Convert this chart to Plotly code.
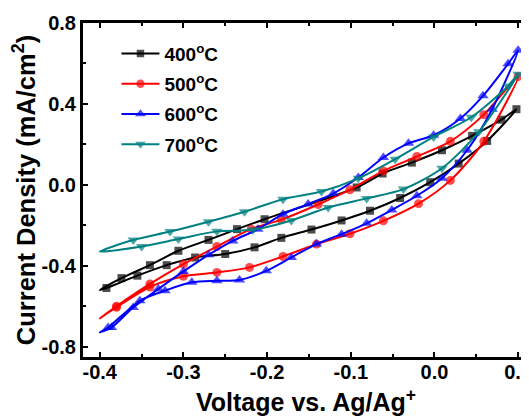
import plotly.graph_objects as go

# ---- data ----
series_names = ["400<sup>o</sup>C", "500<sup>o</sup>C", "600<sup>o</sup>C", "700<sup>o</sup>C"]

# 400 C (black)
v400_fwd = [-0.4, -0.392, -0.355, -0.320, -0.286, -0.250, -0.215, -0.183, -0.147, -0.111, -0.077, -0.041, -0.005, 0.029, 0.063, 0.098]
j400_fwd = [-0.52, -0.51, -0.449, -0.397, -0.359, -0.342, -0.309, -0.262, -0.221, -0.176, -0.128, -0.065, 0.013, 0.105, 0.217, 0.374]
v400_rev = [0.080, 0.045, 0.009, -0.027, -0.062, -0.093, -0.203, -0.236, -0.270, -0.306, -0.340, -0.374, -0.4]
j400_rev = [0.322, 0.242, 0.171, 0.110, 0.056, -0.013, -0.170, -0.219, -0.272, -0.326, -0.397, -0.461, -0.52]

# 500 C (red)
v500_fwd = [-0.4, -0.38, -0.34, -0.30, -0.26, -0.221, -0.181, -0.141, -0.101, -0.061, -0.019, 0.019, 0.059, 0.1]
j500_fwd = [-0.66, -0.605, -0.505, -0.452, -0.433, -0.408, -0.354, -0.293, -0.242, -0.178, -0.093, 0.022, 0.215, 0.535]
v500_rev = [0.059, 0.019, -0.021, -0.061, -0.101, -0.139, -0.183, -0.219, -0.26, -0.30, -0.34, -0.38, -0.4]
j500_rev = [0.347, 0.215, 0.140, 0.069, -0.024, -0.097, -0.172, -0.219, -0.305, -0.392, -0.49, -0.60, -0.66]

# 600 C (blue)
v600_fwd = [-0.4, -0.39, -0.352, -0.322, -0.29, -0.26, -0.233, -0.201, -0.171, -0.141, -0.111, -0.081, -0.051, -0.021, 0.009, 0.039, 0.069, 0.1]
j600_fwd = [-0.73, -0.705, -0.573, -0.523, -0.482, -0.474, -0.470, -0.425, -0.359, -0.293, -0.244, -0.190, -0.124, -0.054, 0.033, 0.171, 0.374, 0.665]
v600_rev = [0.088, 0.058, 0.031, -0.001, -0.031, -0.061, -0.091, -0.121, -0.151, -0.181, -0.211, -0.241, -0.270, -0.300, -0.330, -0.360, -0.386, -0.4]
j600_rev = [0.598, 0.440, 0.328, 0.245, 0.205, 0.135, 0.036, -0.043, -0.095, -0.145, -0.219, -0.277, -0.346, -0.428, -0.515, -0.606, -0.705, -0.73]

# 700 C (teal)
v700_fwd = [-0.4, -0.35, -0.306, -0.260, -0.217, -0.171, -0.127, -0.081, -0.037, 0.009, 0.053, 0.1]
j700_fwd = [-0.33, -0.305, -0.268, -0.230, -0.222, -0.176, -0.112, -0.067, -0.021, 0.082, 0.262, 0.547]
v700_rev = [0.088, 0.044, -0.001, -0.047, -0.091, -0.135, -0.181, -0.227, -0.270, -0.316, -0.36, -0.4]
j700_rev = [0.489, 0.334, 0.237, 0.127, 0.032, -0.033, -0.071, -0.133, -0.182, -0.231, -0.273, -0.33]

x_tickvals = [-0.4, -0.3, -0.2, -0.1, 0.0, 0.1]
x_ticktext = ["-0.4", "-0.3", "-0.2", "-0.1", "0.0", "0.1"]
y_tickvals = [-0.8, -0.4, 0.0, 0.4, 0.8]
y_ticktext = ["-0.8", "-0.4", "0.0", "0.4", "0.8"]

# ---- styles ----
colors = ["#000000", "#FF0000", "#0000FF", "#008080"]
symbols = ["square", "circle", "triangle-up", "triangle-down"]
msizes = [8, 9, 10, 10]
FONT = "Liberation Sans, Arial, sans-serif"

loops = [
    (v400_fwd, j400_fwd, v400_rev, j400_rev),
    (v500_fwd, j500_fwd, v500_rev, j500_rev),
    (v600_fwd, j600_fwd, v600_rev, j600_rev),
    (v700_fwd, j700_fwd, v700_rev, j700_rev),
]

fig = go.Figure()
for i, (vf, jf, vr, jr) in enumerate(loops):
    xs = list(vf) + list(vr)
    ys = list(jf) + list(jr)
    sizes = [0 if abs(x + 0.4) < 1e-9 else msizes[i] for x in xs]
    fig.add_trace(go.Scatter(
        x=xs, y=ys, name=series_names[i], mode="lines+markers",
        line=dict(color=colors[i], width=2, shape="spline", smoothing=0.8),
        marker=dict(symbol=symbols[i], size=sizes, color=colors[i], line=dict(width=0)),
        legendgroup=str(i),
    ))

# page body has an 8px default margin, so the figure is 8px smaller than the window
fig.update_layout(
    width=521, height=408,
    margin=dict(l=75, r=0, t=15, b=59, autoexpand=False),
    paper_bgcolor="white", plot_bgcolor="white",
    font=dict(family=FONT, color="black", size=19, weight="bold"),
    showlegend=True,
    legend=dict(x=0.075, y=0.965, xanchor="left", yanchor="top",
                bgcolor="rgba(0,0,0,0)", itemwidth=38, tracegroupgap=2.5,
                font=dict(family=FONT, size=19, weight="bold")),
    xaxis=dict(
        range=[-0.42, 0.113], tickmode="array", tickvals=x_tickvals, ticktext=x_ticktext,
        ticks="inside", ticklen=5, tickwidth=2, tickcolor="black",
        minor=dict(tickmode="linear", tick0=-0.4, dtick=0.05, ticks="inside", ticklen=3, tickwidth=2, tickcolor="black"),
        showline=True, linewidth=3, linecolor="black", mirror="ticks",
        showgrid=False, zeroline=False, ticklabeloverflow="allow",
        ticklabelstandoff=-5,
        tickfont=dict(family=FONT, size=20, weight="bold"),
        title=dict(text="Voltage vs. Ag/Ag<sup>+</sup>", font=dict(family=FONT, size=25, weight="bold"), standoff=12),
    ),
    yaxis=dict(
        range=[-0.851, 0.8], tickmode="array", tickvals=y_tickvals, ticktext=y_ticktext,
        ticks="inside", ticklen=5, tickwidth=2, tickcolor="black",
        minor=dict(tickmode="linear", tick0=-0.8, dtick=0.2, ticks="inside", ticklen=3, tickwidth=2, tickcolor="black"),
        showline=True, linewidth=3, linecolor="black", mirror=False,
        showgrid=False, zeroline=False,
        tickfont=dict(family=FONT, size=20, weight="bold"),
        title=dict(text="Current Density (mA/cm<sup>2</sup>)", font=dict(family=FONT, size=25.5, weight="bold"), standoff=4),
    ),
)

fig.write_html("out.html")
